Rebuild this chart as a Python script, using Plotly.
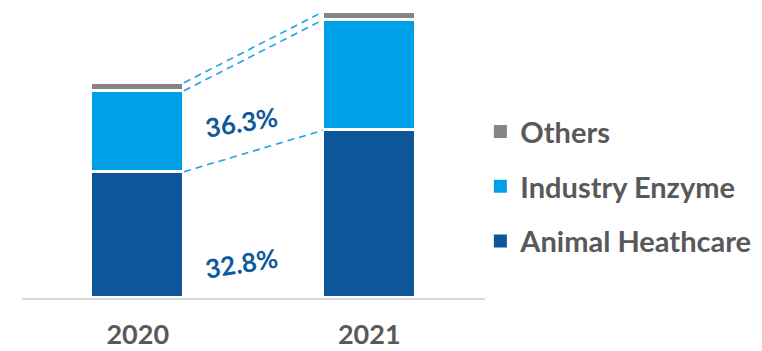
import plotly.graph_objects as go

# Segment sizes per year (stacked from the bottom)
years = ["2020", "2021"]
animal_healthcare = [126.3, 167.7]
industry_enzyme = [81.0, 110.4]
others = [8.0, 8.0]

series_names = ["Animal Heathcare", "Industry Enzyme", "Others"]
series_values = [animal_healthcare, industry_enzyme, others]
series_colors = ["#0E5699", "#00A0E9", "#858585"]

BAR_W = 0.4
FONT = "Lato"
TEXT_GREY = "#595959"
LABEL_BLUE = "#0F5A9C"
DASH_BLUE = "#1AA3E8"

x_pos = list(range(len(years)))

fig = go.Figure()

for name, vals, color in zip(series_names, series_values, series_colors):
    fig.add_trace(go.Bar(
        x=x_pos, y=vals, name=name, width=BAR_W,
        marker=dict(color=color, line=dict(color="white", width=3.5)),
        showlegend=False, hoverinfo="skip",
    ))

# Legend entries: plain squares, top entry is the top segment
for name, color in reversed(list(zip(series_names, series_colors))):
    fig.add_trace(go.Scatter(
        x=[None], y=[None], mode="markers", name=name, legendgroup=name,
        marker=dict(symbol="square", size=13, color=color),
    ))

# Dashed connectors between the stack boundaries of the two bars
cum = [0.0, 0.0]
for vals in series_values:
    cum = [c + v for c, v in zip(cum, vals)]
    fig.add_trace(go.Scatter(
        x=[x_pos[0] + BAR_W / 2, x_pos[1] - BAR_W / 2],
        y=[cum[0], cum[1]],
        mode="lines", showlegend=False, hoverinfo="skip",
        line=dict(color=DASH_BLUE, width=1.6, dash="7px,5px"),
    ))

# Year-over-year growth labels
def growth(vals):
    return f"{(vals[1] / vals[0] - 1) * 100:.1f}%"

label_specs = [
    (growth(industry_enzyme), 176),
    (growth(animal_healthcare), 35.5),
]
for text, yv in label_specs:
    fig.add_annotation(
        x=0.45, y=yv, text=f"<b>{text}</b>", showarrow=False,
        textangle=-9, font=dict(family=FONT, size=26, color=LABEL_BLUE),
    )

fig.update_layout(
    width=762, height=351,
    margin=dict(l=22, r=275, t=5, b=53),
    paper_bgcolor="white", plot_bgcolor="white",
    barmode="stack", bargap=0,
    showlegend=True,
    legend=dict(
        x=0.99, xanchor="left", y=0.38, yanchor="middle",
        traceorder="grouped", tracegroupgap=14, itemsizing="trace",
        font=dict(family=FONT, size=29, color=TEXT_GREY, weight="bold"),
        itemclick=False, itemdoubleclick=False,
    ),
    xaxis=dict(
        range=[-0.5, 1.5], tickvals=x_pos, ticktext=[f"<b>{y}</b>" for y in years],
        showgrid=False, zeroline=False, showline=True, automargin=False,
        linecolor="#D9D9D9", linewidth=2, ticks="", ticklabelstandoff=12,
        tickfont=dict(family=FONT, size=27, color=TEXT_GREY),
    ),
    yaxis=dict(
        range=[0, 293], visible=False, showgrid=False, zeroline=False,
        automargin=False,
    ),
)

fig.write_html("out.html")
